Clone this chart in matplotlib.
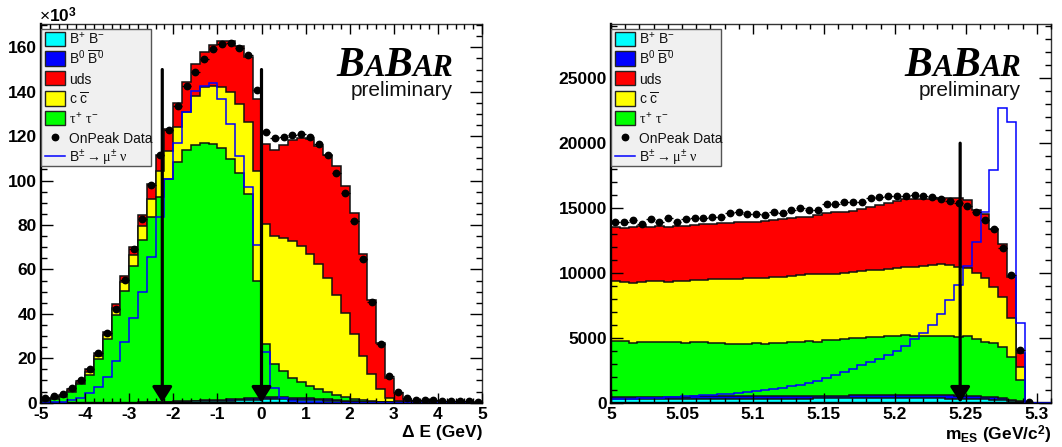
import numpy as np
import matplotlib
matplotlib.use("Agg")
import matplotlib.pyplot as plt
from matplotlib.patches import Rectangle
from matplotlib.lines import Line2D
from matplotlib.ticker import MultipleLocator, FixedLocator, FuncFormatter

plt.rcParams['font.family'] = ['Liberation Sans', 'DejaVu Sans']
plt.rcParams['font.weight'] = 'bold'
plt.rcParams['axes.unicode_minus'] = False
plt.rcParams['mathtext.fontset'] = 'custom'
plt.rcParams['mathtext.rm'] = 'Liberation Sans:normal'
plt.rcParams['mathtext.it'] = 'Liberation Serif:normal'
plt.rcParams['mathtext.bf'] = 'Liberation Sans:bold'

# ---------------- Delta E panel (units of 10^3 events), 50 bins -5..5 ----------------
de_range = (-5.0, 5.0)
de_nbins = 50
de_bpbm = [0.02, 0.02, 0.02, 0.02, 0.02, 0.02, 0.02, 0.02, 0.02, 0.02,
           0.05, 0.08, 0.12, 0.18, 0.25, 0.35, 0.45, 0.55, 0.65, 0.75,
           0.85, 0.95, 1.05, 1.2, 1.35, 1.5, 1.5, 1.45, 1.4, 1.3,
           1.2, 1.05, 0.9, 0.7, 0.5, 0.35, 0.25, 0.15, 0.1, 0.06,
           0.03, 0.03, 0.03, 0.03, 0.03, 0.03, 0.03, 0.03, 0.03, 0.03]
de_b0b0 = [0.01, 0.01, 0.01, 0.01, 0.01, 0.01, 0.01, 0.01, 0.01, 0.01,
           0.03, 0.05, 0.08, 0.12, 0.17, 0.22, 0.28, 0.34, 0.40, 0.46,
           0.52, 0.58, 0.64, 0.70, 0.78, 0.85, 0.90, 0.90, 0.88, 0.85,
           0.80, 0.72, 0.62, 0.50, 0.38, 0.28, 0.20, 0.12, 0.08, 0.05,
           0.02, 0.02, 0.02, 0.02, 0.02, 0.02, 0.02, 0.02, 0.02, 0.02]
de_tautau = [0.9, 1.7, 2.7, 4.9, 8.2, 12.6, 19.5, 28.5, 39.5, 50.1,
             61.6, 73.2, 83.2, 92.1, 100.4, 107.7, 113.2, 115.2, 115.9, 115.4,
             113.2, 108.2, 101.7, 92.0, 52.7, 24.0, 14.9, 11.7, 9.0, 7.1,
             5.5, 4.2, 3.2, 2.1, 1.5, 1.1, 0.55, 0.33, 0.17, 0.09,
             0.07, 0.03, 0.02, 0.02, 0.01, 0.01, 0.01, 0.01, 0.01, 0.01]
de_ccbar = [0.1, 0.2, 0.3, 0.5, 0.8, 1.3, 1.4, 2.0, 3.0, 4.0,
            4.7, 6.3, 8.4, 11.7, 12.6, 15.7, 16.8, 21.8, 25.2, 25.8,
            27.5, 30.0, 31.0, 32.7, 49.6, 54.2, 57.8, 60.1, 61.7, 61.1,
            59.5, 56.4, 51.2, 45.2, 37.9, 29.3, 20.0, 12.3, 5.9, 2.1,
            0.5, 0.12, 0.05, 0.05, 0.04, 0.04, 0.03, 0.03, 0.03, 0.03]
de_uds = [0.3, 0.3, 0.4, 0.6, 0.8, 1.1, 1.4, 1.5, 1.8, 2.9,
          3.8, 5.1, 6.6, 7.6, 10.0, 11.0, 13.5, 14.6, 15.9, 18.8,
          20.6, 23.3, 26.1, 29.1, 32.3, 35.9, 38.5, 41.7, 45.4, 48.8,
          51.8, 53.4, 55.7, 57.9, 57.1, 54.3, 46.0, 33.4, 20.5, 8.9,
          3.6, 1.3, 0.7, 0.4, 0.35, 0.3, 0.25, 0.2, 0.2, 0.15]
de_data = [2.0, 3.0, 4.1, 6.7, 10.1, 15.3, 22.3, 31.3, 42.4, 55.3,
           69.0, 82.7, 98.1, 111.4, 122.7, 133.6, 142.4, 149.0, 154.6, 159.1,
           161.3, 162.1, 159.9, 156.6, 141.0, 122.1, 119.2, 119.7, 120.7, 121.0,
           119.7, 116.3, 111.4, 103.6, 94.2, 82.0, 64.6, 45.2, 26.6, 11.9,
           4.9, 2.2, 1.4, 1.1, 1.0, 0.85, 0.7, 0.65, 0.55, 0.5]
de_signal = [0.0, 0.1, 0.5, 1.2, 2.3, 4.2, 7.2, 11.7, 18.8, 27.2,
             38.0, 50.0, 65.8, 83.4, 100.8, 116.9, 131.0, 140.5, 142.7, 144.0,
             136.6, 125.6, 111.0, 96.9, 70.8, 23.0, 6.8, 2.0, 0.7, 0.3,
             0.15, 0.1, 0.08, 0.06, 0.05, 0.04, 0.03, 0.02, 0.02, 0.01,
             0.0, 0.0, 0.0, 0.0, 0.0, 0.0, 0.0, 0.0, 0.0, 0.0]
de_cuts = [-2.25, 0.0]
de_cut_top = 150.0

# ---------------- mES panel (events), 50 bins 5.0..5.31 ----------------
mes_range = (5.0, 5.31)
mes_nbins = 50
mes_bpbm = [300, 300, 300, 300, 300, 305, 305, 305, 305, 310,
            310, 310, 310, 310, 315, 315, 315, 315, 320, 320,
            320, 320, 320, 325, 325, 325, 325, 330, 330, 330,
            330, 330, 330, 330, 330, 330, 325, 325, 320, 315,
            305, 290, 270, 240, 200, 150, 60, 0, 0, 0]
mes_b0b0 = [150, 150, 155, 155, 160, 160, 160, 165, 165, 170,
            170, 175, 175, 180, 180, 185, 185, 190, 190, 195,
            195, 200, 200, 205, 210, 215, 220, 225, 230, 235,
            240, 245, 250, 250, 250, 250, 245, 240, 235, 230,
            220, 210, 190, 165, 135, 95, 40, 0, 0, 0]
mes_tautau = [4310, 4270, 4175, 4245, 4240, 4185, 4235, 4180, 4160, 4170,
              4220, 4095, 4095, 4030, 4005, 4020, 4080, 4015, 4070, 4115,
              4135, 4180, 4260, 4170, 4295, 4320, 4365, 4405, 4450, 4475,
              4510, 4565, 4590, 4640, 4590, 4580, 4600, 4605, 4595, 4545,
              4615, 4380, 4240, 4175, 3935, 3305, 1650, 0, 0, 0]
mes_ccbar = [4620, 4560, 4570, 4600, 4680, 4750, 4600, 4750, 4770, 4800,
             4750, 4920, 4920, 4980, 5030, 5060, 5000, 5110, 5070, 5090,
             5100, 5130, 5120, 5200, 5070, 5090, 5090, 5090, 5140, 5160,
             5170, 5160, 5210, 5230, 5320, 5360, 5430, 5500, 5450, 5360,
             5270, 5090, 4940, 4370, 3900, 3010, 970, 0, 0, 0]
mes_uds = [4190, 4220, 4370, 4300, 4190, 4220, 4270, 4220, 4250, 4250,
           4300, 4280, 4330, 4380, 4370, 4380, 4380, 4390, 4440, 4430,
           4470, 4450, 4440, 4570, 4700, 4730, 4730, 4760, 4760, 4860,
           4990, 5070, 5170, 5230, 5220, 5190, 5120, 5090, 5210, 5360,
           5220, 4890, 4880, 4440, 4040, 3160, 1140, 0, 0, 0]
mes_data = [13960, 13960, 14090, 13750, 14160, 13960, 14270, 13910, 14160, 14220,
            14220, 14320, 14320, 14650, 14730, 14520, 14520, 14470, 14680, 14600,
            14860, 14990, 14860, 14860, 15320, 15320, 15500, 15500, 15500, 15760,
            15890, 15940, 15940, 15940, 16020, 15920, 15830, 15720, 15550, 15370,
            15180, 14670, 14050, 13390, 11900, 9850, 4060, 30, np.nan, np.nan]
mes_signal = [300, 310, 320, 330, 360, 380, 420, 450, 480, 520,
              560, 600, 650, 700, 750, 800, 870, 950, 1050, 1150,
              1250, 1400, 1550, 1700, 1900, 2100, 2350, 2600, 2900, 3150,
              3400, 3700, 4000, 4400, 4900, 5400, 6000, 6800, 7900, 9070,
              10500, 12400, 14700, 17900, 22700, 21600, 6170, 0, 0, 0]
mes_cut = 5.246
mes_cut_top = 20000.0

legend_labels = [r'B$^{+}$ B$^{-}$', r'B$^{0}$ $\overline{\mathrm{B}}^{0}$', 'uds',
                 r'c $\overline{\mathrm{c}}$', r'$\tau^{+}$ $\tau^{-}$', 'OnPeak Data',
                 r'B$^{\pm}\rightarrow\mu^{\pm}$ $\nu$']
stack_colors = ['#00ffff', '#0000ff', '#00ff00', '#ffff00', '#ff0000']   # bottom -> top
legend_colors = ['#00ffff', '#0000ff', '#ff0000', '#ffff00', '#00ff00']

W, H = 1062, 447
fig = plt.figure(figsize=(W / 100, H / 100), dpi=100)
fig.patch.set_facecolor('white')


def fx(x):
    return x / W


def fy(y):
    return 1 - y / H


def style_axes(ax):
    for s in ['top', 'right']:
        ax.spines[s].set_linewidth(1.0)
        ax.spines[s].set_color('#333333')
    for s in ['left', 'bottom']:
        ax.spines[s].set_linewidth(1.7)
    ax.tick_params(which='both', direction='in', top=True, right=True,
                   labelsize=12.5, pad=3)
    ax.tick_params(axis='x', which='major', length=7, width=1)
    ax.tick_params(axis='x', which='minor', length=3.5, width=1)
    ax.tick_params(axis='y', which='major', length=8.5, width=1)
    ax.tick_params(axis='y', which='minor', length=4.5, width=1)
    ax.xaxis.set_zorder(4)
    ax.yaxis.set_zorder(4)


def draw_panel(ax, rng, nb, comps, data, signal):
    edges = np.linspace(rng[0], rng[1], nb + 1)
    centers = 0.5 * (edges[1:] + edges[:-1])
    half = 0.5 * (edges[1] - edges[0])
    cum = np.cumsum(np.array(comps, dtype=float), axis=0)
    for k in reversed(range(len(comps))):
        ax.stairs(cum[k], edges, baseline=0, fill=True, facecolor=stack_colors[k],
                  edgecolor='none', zorder=2)
        ax.stairs(cum[k], edges, baseline=0, color='#111111', lw=1.1, zorder=2)
    ax.stairs(np.array(signal, dtype=float), edges, baseline=0, color='#0000ff',
              lw=1.1, zorder=3)
    ax.errorbar(centers, data, xerr=half, fmt='o', color='k', ms=4.6, lw=0.9,
                capsize=0, zorder=5)


def cut_arrow(ax, x, top):
    ax.annotate('', xy=(x, 0), xytext=(x, top),
                arrowprops=dict(arrowstyle='-|>,head_length=0.95,head_width=0.6',
                                color='k', lw=2.3, shrinkA=0, shrinkB=0,
                                mutation_scale=10),
                zorder=6)


def legend_box(x0):
    fig.add_artist(Rectangle((fx(x0), fy(166)), (110) / W, (166 - 29) / H,
                             transform=fig.transFigure, facecolor='#f0f0f0',
                             edgecolor='#555555', lw=1.0, zorder=10))
    rows = [38.7, 58.5, 78.3, 98.5, 118.3, 137.3, 156.3]
    for i in range(5):
        yc = rows[i]
        fig.add_artist(Rectangle((fx(x0 + 4), fy(yc + 7)), 20 / W, 14 / H,
                                 transform=fig.transFigure,
                                 facecolor=legend_colors[i], edgecolor='#222222',
                                 lw=1.0, zorder=11))
    fig.add_artist(Line2D([fx(x0 + 14)], [fy(rows[5])], marker='o', ms=4.6,
                          color='k', transform=fig.transFigure, zorder=11))
    fig.add_artist(Line2D([fx(x0 + 4), fx(x0 + 24)], [fy(rows[6]), fy(rows[6])],
                          color='#0000ff', lw=1.1, transform=fig.transFigure,
                          zorder=11))
    for i, lab in enumerate(legend_labels):
        fig.text(fx(x0 + 28), fy(rows[i] + 6), lab, fontsize=10, fontweight='normal',
                 ha='left', va='baseline', zorder=12, color='#111111')


def babar(right_px, base_px):
    pieces = [('B', 30), ('A', 22), ('B', 30), ('AR', 22)]
    texts = []
    for s, size in pieces:
        t = fig.text(0, fy(base_px), s, fontsize=size, family='Liberation Serif',
                     style='italic', fontweight='bold', va='baseline', ha='left',
                     zorder=11)
        texts.append(t)
    r = fig.canvas.get_renderer()
    widths = [t.get_window_extent(r).width for t in texts]
    x = right_px - sum(widths)
    for t, w in zip(texts, widths):
        t.set_x(fx(x))
        x += w
    fig.text(fx(right_px), fy(base_px + 20.5), 'preliminary', fontsize=15,
             fontweight='normal', ha='right', va='baseline', color='#111111',
             zorder=11)


# ---------------- left panel ----------------
ax1 = fig.add_axes([fx(41), fy(402.7), 441 / W, 378.7 / H])
draw_panel(ax1, de_range, de_nbins,
           [de_bpbm, de_b0b0, de_tautau, de_ccbar, de_uds], de_data, de_signal)
for c in de_cuts:
    cut_arrow(ax1, c, de_cut_top)
ax1.set_xlim(*de_range)
ax1.set_ylim(0, 170.5)
ax1.xaxis.set_major_locator(MultipleLocator(1))
ax1.xaxis.set_minor_locator(MultipleLocator(0.2))
ax1.yaxis.set_major_locator(MultipleLocator(20))
ax1.yaxis.set_minor_locator(MultipleLocator(5))
ax1.xaxis.set_major_formatter(FuncFormatter(lambda v, p: f'{v:g}'))
ax1.yaxis.set_major_formatter(FuncFormatter(lambda v, p: f'{v:g}'))
style_axes(ax1)

# ---------------- right panel ----------------
ax2 = fig.add_axes([fx(611), fy(402.7), 440 / W, 378.7 / H])
draw_panel(ax2, mes_range, mes_nbins,
           [mes_bpbm, mes_b0b0, mes_tautau, mes_ccbar, mes_uds], mes_data, mes_signal)
cut_arrow(ax2, mes_cut, mes_cut_top)
ax2.set_xlim(*mes_range)
ax2.set_ylim(0, 29184)
ax2.xaxis.set_major_locator(FixedLocator([5.0, 5.05, 5.1, 5.15, 5.2, 5.25, 5.3]))
ax2.xaxis.set_minor_locator(MultipleLocator(0.01))
ax2.yaxis.set_major_locator(MultipleLocator(5000))
ax2.yaxis.set_minor_locator(MultipleLocator(1000))
ax2.xaxis.set_major_formatter(FuncFormatter(lambda v, p: f'{round(v, 3):g}'))
ax2.yaxis.set_major_formatter(FuncFormatter(lambda v, p: f'{v:g}'))
style_axes(ax2)

# ---------------- texts ----------------
fig.text(fx(39), fy(22.5), r'$\times$10$^{\mathbf{3}}$', fontsize=12.5,
         fontweight='bold', ha='left', va='baseline')
fig.text(fx(482), fy(433), 'Δ E (GeV)', fontsize=12.5, fontweight='bold',
         ha='right', va='center')
fig.text(fx(1051), fy(435), r'm$_{\mathbf{ES}}$ (GeV/c$^{\mathbf{2}}$)', fontsize=12.5,
         fontweight='bold', ha='right', va='center')

legend_box(41)
legend_box(611)
babar(453, 76)
babar(1021, 76)

fig.savefig('out.png', dpi=100, facecolor='white')
